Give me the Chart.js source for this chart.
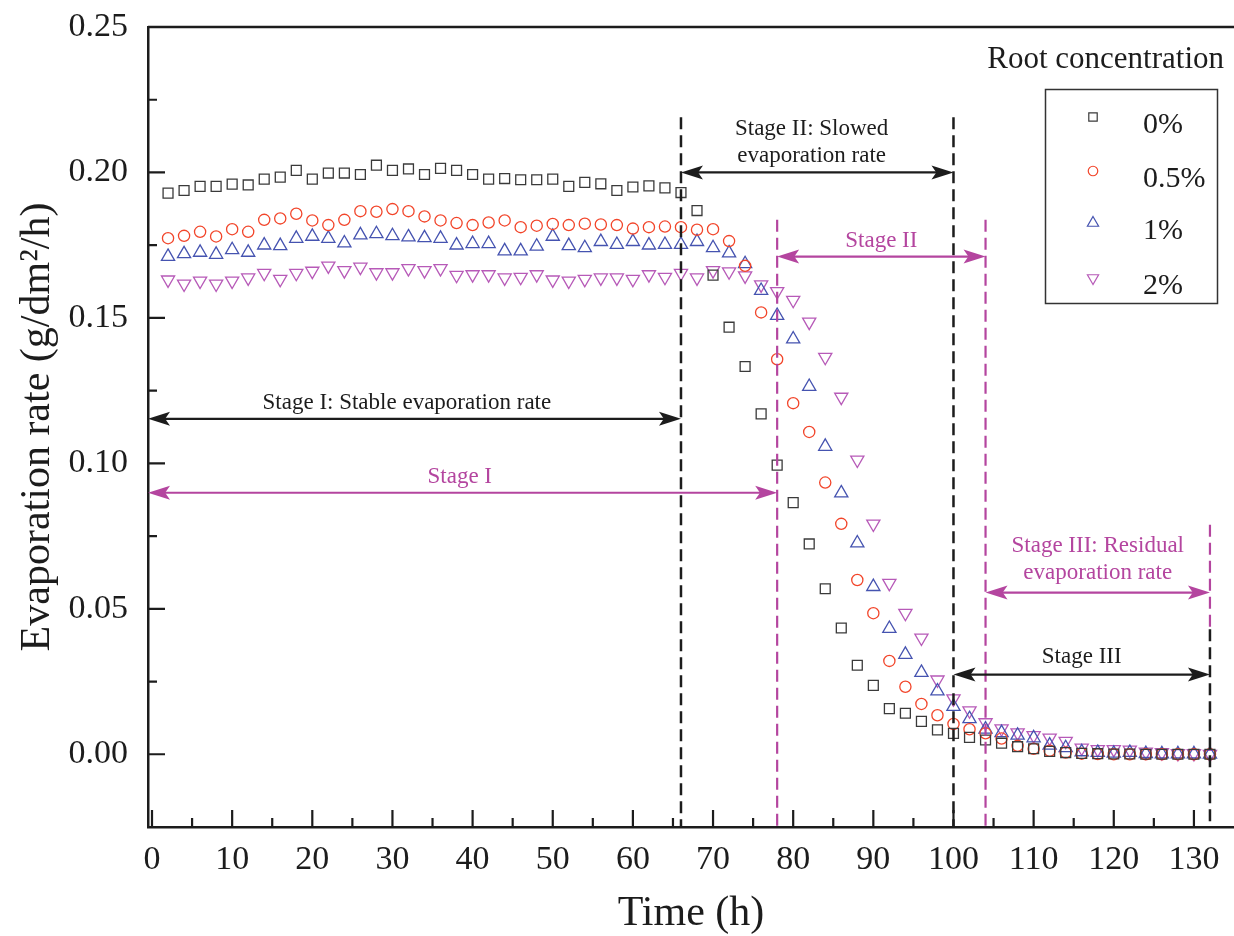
<!DOCTYPE html>
<html>
<head>
<meta charset="utf-8">
<script src="https://cdn.jsdelivr.net/npm/chart.js@4.4.0/dist/chart.umd.min.js"></script>
<style>
  html, body { margin: 0; padding: 0; background: #fff; overflow: hidden; }
  canvas { display: block; }
</style>
</head>
<body>
<canvas id="evapChart" width="1234" height="936"></canvas>
<script>
// sampling times (h)
const times = [2, 4, 6, 8, 10, 12, 14, 16, 18, 20,
  22, 24, 26, 28, 30, 32, 34, 36, 38, 40,
  42, 44, 46, 48, 50, 52, 54, 56, 58, 60,
  62, 64, 66, 68, 70, 72, 74, 76, 78, 80,
  82, 84, 86, 88, 90, 92, 94, 96, 98, 100,
  102, 104, 106, 108, 110, 112, 114, 116, 118, 120,
  122, 124, 126, 128, 130, 132];

// evaporation rate (g/dm2/h) per root concentration
const rate0 = [0.1929, 0.1938, 0.1952, 0.1952, 0.1960, 0.1957, 0.1977, 0.1984, 0.2007, 0.1977,
  0.1998, 0.1998, 0.1993, 0.2025, 0.2007, 0.2012, 0.1993, 0.2014, 0.2007, 0.1993,
  0.1977, 0.1979, 0.1975, 0.1975, 0.1977, 0.1952, 0.1966, 0.1961, 0.1938, 0.1950,
  0.1954, 0.1947, 0.1931, 0.1869, 0.1647, 0.1468, 0.1333, 0.1170, 0.0994, 0.0865,
  0.0723, 0.0569, 0.0434, 0.0306, 0.0237, 0.0157, 0.0141, 0.0113, 0.0084, 0.0072,
  0.0058, 0.0049, 0.0038, 0.0026, 0.0019, 0.0010, 0.0006, 0.0003, 0.0002, 0.0001,
  0.0001, 0.0000, 0.0000, 0.0000, 0.0000, 0.0000];
const rate05 = [0.1774, 0.1782, 0.1796, 0.1780, 0.1805, 0.1796, 0.1837, 0.1842, 0.1858, 0.1835,
  0.1819, 0.1837, 0.1867, 0.1865, 0.1874, 0.1867, 0.1849, 0.1835, 0.1826, 0.1819,
  0.1828, 0.1835, 0.1812, 0.1817, 0.1823, 0.1819, 0.1824, 0.1821, 0.1819, 0.1807,
  0.1812, 0.1814, 0.1812, 0.1803, 0.1805, 0.1764, 0.1679, 0.1519, 0.1358, 0.1207,
  0.1108, 0.0934, 0.0792, 0.0599, 0.0485, 0.0321, 0.0232, 0.0173, 0.0134, 0.0104,
  0.0086, 0.0072, 0.0054, 0.0029, 0.0019, 0.0012, 0.0006, 0.0002, 0.0001, 0.0000,
  0.0000, 0.0000, 0.0000, 0.0000, 0.0000, 0.0000];
const rate1 = [0.1711, 0.1720, 0.1725, 0.1718, 0.1734, 0.1725, 0.1750, 0.1748, 0.1773, 0.1780,
  0.1773, 0.1757, 0.1785, 0.1789, 0.1782, 0.1778, 0.1775, 0.1773, 0.1750, 0.1755,
  0.1755, 0.1730, 0.1730, 0.1746, 0.1780, 0.1748, 0.1741, 0.1762, 0.1752, 0.1762,
  0.1750, 0.1752, 0.1752, 0.1762, 0.1741, 0.1723, 0.1686, 0.1594, 0.1508, 0.1427,
  0.1264, 0.1058, 0.0898, 0.0726, 0.0576, 0.0432, 0.0343, 0.0281, 0.0217, 0.0164,
  0.0122, 0.0086, 0.0074, 0.0065, 0.0056, 0.0031, 0.0022, 0.0008, 0.0006, 0.0003,
  0.0006, 0.0002, 0.0001, 0.0001, 0.0001, 0.0000];
const rate2 = [0.1631, 0.1617, 0.1627, 0.1617, 0.1627, 0.1638, 0.1654, 0.1633, 0.1654, 0.1661,
  0.1679, 0.1663, 0.1675, 0.1656, 0.1656, 0.1670, 0.1663, 0.1670, 0.1647, 0.1649,
  0.1649, 0.1638, 0.1640, 0.1649, 0.1631, 0.1627, 0.1633, 0.1638, 0.1638, 0.1633,
  0.1649, 0.1640, 0.1654, 0.1638, 0.1663, 0.1659, 0.1645, 0.1614, 0.1591, 0.1561,
  0.1486, 0.1365, 0.1228, 0.1012, 0.0792, 0.0588, 0.0485, 0.0400, 0.0256, 0.0191,
  0.0150, 0.0109, 0.0088, 0.0074, 0.0065, 0.0056, 0.0045, 0.0022, 0.0017, 0.0017,
  0.0015, 0.0008, 0.0006, 0.0003, 0.0003, 0.0000];

const seriesLabels = ['0%', '0.5%', '1%', '2%'];
const legendTitle = 'Root concentration';

const xTickValues = [0, 10, 20, 30, 40, 50, 60, 70, 80, 90, 100, 110, 120, 130];
const xMinorValues = [5, 15, 25, 35, 45, 55, 65, 75, 85, 95, 105, 115, 125];
const yTickValues = [0, 0.05, 0.10, 0.15, 0.20, 0.25];
const yMinorValues = [0.025, 0.075, 0.125, 0.175, 0.225];

// dashed stage boundaries (time, top value, bottom value or null = axis)
const dashX = [66, 100, 78, 104, 132, 132];
const dashTop = [0.219, 0.219, 0.1837, 0.1837, 0.0789, 0.043];
const dashBottom = [null, null, null, null, 0.043, null];
const dashMagenta = [false, false, true, true, true, false];

// stage arrows and their labels
const arrowStart = [-0.5, -0.5, 66, 78, 104, 100];
const arrowEnd = [66, 78, 100, 104, 132, 132];
const arrowY = [0.1153, 0.0899, 0.2000, 0.1711, 0.0556, 0.0274];
const arrowMagenta = [false, true, false, true, true, false];
const stageText = [
  ['Stage I: Stable evaporation rate'],
  ['Stage I'],
  ['Stage II: Slowed', 'evaporation rate'],
  ['Stage II'],
  ['Stage III: Residual', 'evaporation rate'],
  ['Stage III']
];
const stageTextX = [31.8, 38.4, 82.3, 91, 118, 116];
const stageTextY = [[0.1209], [0.0955], [0.2149, 0.2057], [0.1766], [0.0716, 0.0622], [0.0334]];

const BLACK = '#1c1c1c';
const MAGENTA = '#b4459f';
const SERIF = "'Liberation Serif', 'Times New Roman', serif";

const seriesStyle = [
  { pointStyle: 'rect', radius: 7, rotation: 0, color: '#3a3a3a' },
  { pointStyle: 'circle', radius: 5.6, rotation: 0, color: '#f2452a' },
  { pointStyle: 'triangle', radius: 7.6, rotation: 0, color: '#4553b0' },
  { pointStyle: 'triangle', radius: 7.6, rotation: 180, color: '#b75ab8' }
];

const seriesData = [rate0, rate05, rate1, rate2];

const datasets = seriesData.map((vals, i) => ({
  label: seriesLabels[i],
  data: times.map((t, k) => ({ x: t, y: vals[k] })),
  pointStyle: seriesStyle[i].pointStyle,
  pointRadius: seriesStyle[i].radius,
  pointRotation: seriesStyle[i].rotation,
  borderColor: seriesStyle[i].color,
  backgroundColor: 'rgba(0,0,0,0)',
  pointBorderWidth: 1.3,
  showLine: false
}));

function drawArrowHead(ctx, tipX, tipY, dir) {
  const len = 22, half = 7;
  ctx.beginPath();
  ctx.moveTo(tipX, tipY);
  ctx.lineTo(tipX - dir * len, tipY - half);
  ctx.lineTo(tipX - dir * len * 0.78, tipY);
  ctx.lineTo(tipX - dir * len, tipY + half);
  ctx.closePath();
  ctx.fill();
}

const frameAndNotes = {
  id: 'frameAndNotes',
  afterDatasetsDraw(chart) {
    const { ctx, chartArea: area, scales: { x, y } } = chart;
    ctx.save();

    // top frame line
    ctx.strokeStyle = BLACK;
    ctx.lineWidth = 2.5;
    ctx.beginPath();
    ctx.moveTo(area.left, area.top);
    ctx.lineTo(area.right, area.top);
    ctx.stroke();

    // inward ticks
    ctx.lineWidth = 2.2;
    ctx.beginPath();
    yTickValues.forEach(v => {
      const py = y.getPixelForValue(v);
      ctx.moveTo(area.left, py); ctx.lineTo(area.left + 17, py);
    });
    yMinorValues.forEach(v => {
      const py = y.getPixelForValue(v);
      ctx.moveTo(area.left, py); ctx.lineTo(area.left + 9, py);
    });
    xTickValues.forEach(v => {
      const px = x.getPixelForValue(v);
      ctx.moveTo(px, area.bottom); ctx.lineTo(px, area.bottom - 17);
    });
    xMinorValues.forEach(v => {
      const px = x.getPixelForValue(v);
      ctx.moveTo(px, area.bottom); ctx.lineTo(px, area.bottom - 9);
    });
    ctx.stroke();

    // dashed stage boundaries
    dashX.forEach((v, i) => {
      const px = x.getPixelForValue(v);
      ctx.strokeStyle = dashMagenta[i] ? MAGENTA : BLACK;
      ctx.lineWidth = dashMagenta[i] ? 2.2 : 2.5;
      ctx.setLineDash([12, 6]);
      ctx.beginPath();
      ctx.moveTo(px, y.getPixelForValue(dashTop[i]));
      ctx.lineTo(px, dashBottom[i] === null ? area.bottom : y.getPixelForValue(dashBottom[i]));
      ctx.stroke();
    });
    ctx.setLineDash([]);

    // arrows
    arrowStart.forEach((v, i) => {
      const col = arrowMagenta[i] ? MAGENTA : BLACK;
      const x0 = x.getPixelForValue(v);
      const x1 = x.getPixelForValue(arrowEnd[i]);
      const py = y.getPixelForValue(arrowY[i]);
      ctx.strokeStyle = col;
      ctx.fillStyle = col;
      ctx.lineWidth = 2.2;
      ctx.beginPath();
      ctx.moveTo(x0 + 6, py);
      ctx.lineTo(x1 - 6, py);
      ctx.stroke();
      drawArrowHead(ctx, x0, py, -1);
      drawArrowHead(ctx, x1, py, 1);
    });

    // stage labels
    ctx.font = '23px ' + SERIF;
    ctx.textAlign = 'center';
    ctx.textBaseline = 'middle';
    stageText.forEach((lines, i) => {
      ctx.fillStyle = arrowMagenta[i] ? MAGENTA : BLACK;
      lines.forEach((line, k) => {
        ctx.fillText(line, x.getPixelForValue(stageTextX[i]), y.getPixelForValue(stageTextY[i][k]));
      });
    });

    // legend
    ctx.fillStyle = BLACK;
    ctx.font = '31px ' + SERIF;
    ctx.textAlign = 'right';
    ctx.textBaseline = 'alphabetic';
    ctx.fillText(legendTitle, 1224, 68);

    ctx.strokeStyle = '#333';
    ctx.lineWidth = 1.5;
    ctx.strokeRect(1045.5, 89.5, 172, 214);

    ctx.font = '30px ' + SERIF;
    const rowY = [117, 171, 223, 278];
    chart.data.datasets.forEach((ds, i) => {
      ctx.strokeStyle = seriesStyle[i].color;
      ctx.fillStyle = 'rgba(0,0,0,0)';
      ctx.lineWidth = 1.2;
      Chart.helpers.drawPoint(ctx, {
        pointStyle: seriesStyle[i].pointStyle,
        radius: seriesStyle[i].radius * 0.85,
        rotation: seriesStyle[i].rotation,
        borderWidth: 1.2
      }, 1093, rowY[i]);
      ctx.fillStyle = BLACK;
      ctx.textAlign = 'left';
      ctx.fillText(ds.label, 1143, rowY[i] + 16);
    });

    ctx.restore();
  }
};

new Chart(document.getElementById('evapChart'), {
  type: 'scatter',
  data: { datasets: datasets },
  options: {
    responsive: false,
    animation: false,
    layout: { autoPadding: false, padding: { top: 27, right: 0, bottom: 0, left: 0 } },
    plugins: { legend: { display: false }, tooltip: { enabled: false } },
    scales: {
      x: {
        type: 'linear',
        min: -0.5,
        max: 135,
        afterBuildTicks: s => { s.ticks = xTickValues.map(v => ({ value: v })); },
        afterFit: s => { s.height = 109; s.paddingLeft = 0; s.paddingRight = 0; },
        grid: { display: false, drawTicks: false },
        border: { display: true, color: BLACK, width: 2.5 },
        ticks: {
          padding: 13,
          color: BLACK,
          autoSkip: false,
          maxRotation: 0,
          font: { family: SERIF, size: 34 },
          callback: v => String(v)
        },
        title: {
          display: true,
          text: 'Time (h)',
          color: BLACK,
          font: { family: SERIF, size: 42 },
          padding: { top: 0, bottom: -3 }
        }
      },
      y: {
        type: 'linear',
        min: -0.025,
        max: 0.25,
        afterBuildTicks: s => { s.ticks = yTickValues.map(v => ({ value: v })); },
        afterFit: s => { s.width = 148; s.paddingTop = 0; s.paddingBottom = 0; },
        grid: { display: false, drawTicks: false },
        border: { display: true, color: BLACK, width: 2.5 },
        ticks: {
          padding: 20,
          color: BLACK,
          font: { family: SERIF, size: 34 },
          callback: v => v.toFixed(2)
        },
        title: {
          display: true,
          text: 'Evaporation rate (g/dm²/h)',
          color: BLACK,
          font: { family: SERIF, size: 42 },
          padding: { top: 13, bottom: 0 }
        }
      }
    }
  },
  plugins: [frameAndNotes]
});
</script>
</body>
</html>
